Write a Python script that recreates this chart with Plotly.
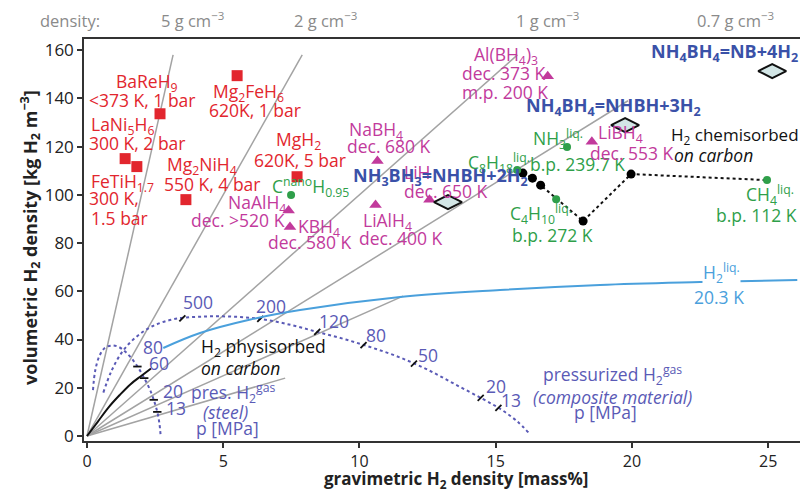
import numpy as np
import plotly.graph_objects as go

# ---------------- data ----------------
# density lines (g/cm^3) and the volumetric density at which each line stops
density_values = [5, 2, 1, 0.7, 0.5, 0.33]
density_line_end_y = [158, 158, 158, 139, 58, 24]
density_top_labels = ["5 g cm<sup>−3</sup>", "2 g cm<sup>−3</sup>", "1 g cm<sup>−3</sup>", "0.7 g cm<sup>−3</sup>"]
density_top_label_x = [3.86, 8.75, 16.9, 23.8]

# metal hydrides (red squares)
metal_names = ["BaReH9", "Mg2FeH6", "LaNi5H6", "FeTiH1.7", "Mg2NiH4", "MgH2"]
metal_grav = [2.68, 5.51, 1.40, 1.83, 3.63, 7.71]
metal_vol = [133.6, 149.4, 115.0, 111.7, 98.0, 107.5]

# complex hydrides (magenta triangles)
complex_names = ["NaAlH4", "KBH4", "NaBH4", "LiAlH4", "LiH", "Al(BH4)3", "LiBH4"]
complex_grav = [7.40, 7.45, 10.66, 10.59, 12.57, 16.91, 18.53]
complex_vol = [93.5, 86.7, 114.0, 95.8, 98.0, 149.2, 122.0]

# liquids / carbon (green circles)
green_names = ["CnanoH0.95", "C8H18", "NH3", "C4H10", "CH4"]
green_grav = [7.49, 15.79, 17.62, 17.22, 24.96]
green_vol = [99.9, 110.3, 119.8, 98.2, 106.1]

# H2 chemisorbed on carbon (black dots, dotted line ends at CH4)
chem_grav = [16.0, 16.35, 16.65, 18.21, 19.97]
chem_vol = [109.0, 106.9, 104.0, 89.1, 108.6]

# ammonia borane reactions (diamonds)
borane_names = ["NH3BH3=NHBH+2H2", "NH4BH4=NHBH+3H2", "NH4BH4=NB+4H2"]
borane_grav = [13.25, 19.75, 25.15]
borane_vol = [97.0, 128.9, 151.3]

# H2 physisorbed on carbon (black curve)
phys_grav = [0.0, 0.4, 0.8, 1.2, 1.6, 2.0, 2.35]
phys_vol = [0.0, 6.0, 12.0, 17.0, 21.5, 25.0, 28.0]

# liquid hydrogen curve
h2liq_grav = [2.8, 4.15, 6.0, 7.82, 11.49, 15.16, 18.83, 22.5, 26.07]
h2liq_vol = [36.5, 42.7, 48.3, 52.2, 57.6, 60.5, 62.6, 63.8, 64.7]

# pressurized H2 gas, composite tank
comp_grav = [0.6, 0.9, 1.3, 1.8, 2.4, 3.2, 4.2, 5.3, 6.4, 7.5, 8.5, 9.5, 10.5, 11.5, 12.5, 13.5, 14.5, 15.2, 15.8, 16.2]
comp_vol = [18, 27, 35, 41, 45.5, 48.5, 49.5, 49.5, 48.5, 46, 43, 40, 36.5, 32.5, 27.5, 21.5, 15.5, 11, 6, 1.5]
comp_tick_p = ["500", "200", "120", "80", "50", "20", "13"]
comp_tick_grav = [3.5, 6.36, 8.45, 10.15, 12.0, 14.45, 15.1]

# pressurized H2 gas, steel tank
steel_grav = [0.22, 0.3, 0.45, 0.65, 0.9, 1.15, 1.4, 1.65, 1.9, 2.1, 2.3, 2.45, 2.58, 2.66, 2.7]
steel_vol = [19, 27, 33, 36.5, 37.5, 37, 35, 32, 28, 24, 19.5, 15, 10, 5, 0.5]
steel_tick_p = ["80", "60", "20", "13"]
steel_tick_grav = [1.85, 2.1, 2.45, 2.58]

x_ticks = [0, 5, 10, 15, 20, 25]
y_ticks = [0, 20, 40, 60, 80, 100, 120, 140, 160]

# ---------------- styles ----------------
RED = "#e2262e"
MAG = "#c23a9c"
GRN = "#2f9f4a"
BLU = "#3a51a8"
PBL = "#5a5ab6"
LBL = "#4aa0dc"
GRY = "#a3a3a3"
FONT = "Open Sans"

fig = go.Figure()

# density lines through origin
for d, yend in zip(density_values, density_line_end_y):
    slope = d * 10.0  # kg/m^3 per mass%
    fig.add_trace(go.Scatter(x=[0, yend / slope], y=[0, yend], mode="lines",
                             line=dict(color=GRY, width=1.5), hoverinfo="skip", showlegend=False))

# composite and steel tank curves
fig.add_trace(go.Scatter(x=comp_grav, y=comp_vol, mode="lines", line=dict(color=PBL, width=2, dash="dot"),
                         line_shape="spline", showlegend=False))
fig.add_trace(go.Scatter(x=steel_grav, y=steel_vol, mode="lines", line=dict(color=PBL, width=2, dash="dot"),
                         line_shape="spline", showlegend=False))
# pressure tick marks
fig.add_trace(go.Scatter(x=comp_tick_grav, y=np.interp(comp_tick_grav, comp_grav, comp_vol), mode="markers",
                         marker=dict(symbol="line-ne", size=6, line=dict(color="#111", width=1.8)), showlegend=False))
fig.add_trace(go.Scatter(x=steel_tick_grav, y=np.interp(steel_tick_grav, steel_grav, steel_vol), mode="markers",
                         marker=dict(symbol="line-ew", size=6, line=dict(color="#111", width=1.8)), showlegend=False))

# liquid H2 and physisorbed curves
fig.add_trace(go.Scatter(x=h2liq_grav, y=h2liq_vol, mode="lines", line=dict(color=LBL, width=2),
                         line_shape="spline", showlegend=False))
fig.add_trace(go.Scatter(x=phys_grav, y=phys_vol, mode="lines", line=dict(color="#111", width=2),
                         line_shape="spline", showlegend=False))

# chemisorbed dotted path to CH4
fig.add_trace(go.Scatter(x=chem_grav + [green_grav[4]], y=chem_vol + [green_vol[4]], mode="lines",
                         line=dict(color="#111", width=2, dash="dot"), showlegend=False))
fig.add_trace(go.Scatter(x=chem_grav, y=chem_vol, mode="markers",
                         marker=dict(color="#000", size=9), showlegend=False))

# material markers
fig.add_trace(go.Scatter(x=metal_grav, y=metal_vol, mode="markers", text=metal_names,
                         marker=dict(symbol="square", color=RED, size=11), showlegend=False))
fig.add_trace(go.Scatter(x=complex_grav, y=complex_vol, mode="markers", text=complex_names,
                         marker=dict(symbol="triangle-up", color=MAG, size=11), showlegend=False))
fig.add_trace(go.Scatter(x=green_grav, y=green_vol, mode="markers", text=green_names,
                         marker=dict(symbol="circle", color=GRN, size=8), showlegend=False))
fig.add_trace(go.Scatter(x=borane_grav, y=borane_vol, mode="markers", text=borane_names,
                         marker=dict(symbol="diamond-wide", color="#d3e6e6", size=20,
                                     line=dict(color="#111", width=2)), showlegend=False))

# ---------------- labels ----------------
labels = [
    ("BaReH<sub>9</sub>", 1.03, 146.7, RED, ""),
    ("<373 K, 1 bar", 0.04, 139.3, RED, ""),
    ("Mg<sub>2</sub>FeH<sub>6</sub>", 4.59, 142.6, RED, ""),
    ("620K, 1 bar", 4.44, 135.1, RED, ""),
    ("LaNi<sub>5</sub>H<sub>6</sub>", 0.11, 128.9, RED, ""),
    ("300 K, 2 bar", 0.04, 121.5, RED, ""),
    ("FeTiH<sub>1.7</sub>", 0.11, 104.9, RED, ""),
    ("300 K,", 0.04, 98.7, RED, ""),
    ("1.5 bar", 0.11, 90.4, RED, ""),
    ("MgH<sub>2</sub>", 6.90, 122.7, RED, ""),
    ("620K, 5 bar", 6.09, 114.4, RED, ""),
    ("Mg<sub>2</sub>NiH<sub>4</sub>", 2.90, 112.3, RED, ""),
    ("550 K, 4 bar", 2.79, 104.5, RED, ""),
    ("C<sup>nano</sup>H<sub>0.95</sub>", 6.75, 103.2, GRN, ""),
    ("C<sub>8</sub>H<sub>18</sub><sup>liq.</sup>", 13.95, 113.2, GRN, ""),
    ("b.p. 239.7 K", 16.23, 112.7, GRN, ""),
    ("NH<sub>3</sub><sup>liq.</sup>", 16.34, 123.1, GRN, ""),
    ("C<sub>4</sub>H<sub>10</sub><sup>liq.</sup>", 15.49, 92.0, GRN, ""),
    ("b.p. 272 K", 15.57, 83.3, GRN, ""),
    ("CH<sub>4</sub><sup>liq.</sup>", 24.16, 99.9, GRN, ""),
    ("b.p. 112 K", 23.05, 91.6, GRN, ""),
    ("NaBH<sub>4</sub>", 9.58, 126.8, MAG, ""),
    ("dec. 680 K", 9.51, 120.2, MAG, ""),
    ("NaAlH<sub>4</sub>", 5.14, 96.6, MAG, ""),
    ("dec. >520 K", 3.78, 89.5, MAG, ""),
    ("KBH<sub>4</sub>", 7.71, 86.6, MAG, ""),
    ("dec. 580 K", 6.61, 80.4, MAG, ""),
    ("LiAlH<sub>4</sub>", 10.10, 89.1, MAG, ""),
    ("dec. 400 K", 9.95, 82.1, MAG, ""),
    ("LiH", 11.60, 109.4, MAG, ""),
    ("dec. 650 K", 11.60, 101.6, MAG, ""),
    ("Al(BH<sub>4</sub>)<sub>3</sub>", 14.17, 157.9, MAG, ""),
    ("dec. 373 K", 13.73, 150.5, MAG, ""),
    ("m.p. 200 K", 13.73, 142.6, MAG, ""),
    ("LiBH<sub>4</sub>", 18.72, 125.6, MAG, ""),
    ("dec. 553 K", 18.43, 117.3, MAG, ""),
    ("<b>NH<sub>3</sub>BH<sub>3</sub>=NHBH+2H<sub>2</sub></b>", 9.73, 107.4, BLU, ""),
    ("<b>NH<sub>4</sub>BH<sub>4</sub>=NHBH+3H<sub>2</sub></b>", 16.08, 136.8, BLU, ""),
    ("<b>NH<sub>4</sub>BH<sub>4</sub>=NB+4H<sub>2</sub></b>", 20.67, 158.8, BLU, ""),
    ("H<sub>2</sub> chemisorbed", 21.40, 124.8, "#111", "s"),
    ("<i>on carbon</i>", 21.52, 116.5, "#111", ""),
    ("H<sub>2</sub> physisorbed", 4.15, 36.9, "#111", ""),
    ("<i>on carbon</i>", 4.15, 28.2, "#111", ""),
    ("H<sub>2</sub><sup>liq.</sup>", 22.58, 67.6, LBL, "bg"),
    ("20.3 K", 22.25, 57.6, LBL, ""),
    ("pres. H<sub>2</sub><sup>gas</sup>", 3.78, 17.8, PBL, ""),
    ("<i>(steel)</i>", 4.22, 9.9, PBL, ""),
    ("p [MPa]", 3.96, 3.3, PBL, ""),
    ("pressurized H<sub>2</sub><sup>gas</sup>", 16.70, 25.3, PBL, ""),
    ("<i>(composite material)</i>", 16.34, 16.2, PBL, ""),
    ("p [MPa]", 17.84, 9.9, PBL, ""),
]
comp_label_pos = [(3.49, 55.5), (6.17, 53.9), (8.48, 47.7), (10.21, 41.9), (12.11, 33.6), (14.61, 20.7), (15.16, 14.9)]
steel_label_pos = [(2.02, 36.9), (2.24, 30.3), (2.75, 18.7), (2.86, 11.6)]
for p, (lx, ly) in zip(comp_tick_p, comp_label_pos):
    labels.append((p, lx, ly, PBL, ""))
for p, (lx, ly) in zip(steel_tick_p, steel_label_pos):
    labels.append((p, lx, ly, PBL, ""))

annotations = []
for text, lx, ly, color, style in labels:
    bold = text.startswith("<b>")
    size = 18 if bold else (17 if style == "s" else 17.5)
    annotations.append(dict(
        text=text, x=lx, y=ly, xref="x", yref="y", xanchor="left", yanchor="middle",
        showarrow=False, borderpad=0,
        bgcolor="white" if style == "bg" else "rgba(0,0,0,0)",
        font=dict(family=FONT, size=size, color=color)))

# density labels on top
annotations.append(dict(text="density:", x=-0.02, y=1.047, xref="paper", yref="paper",
                        xanchor="center", yanchor="middle", showarrow=False,
                        font=dict(family=FONT, size=16.5, color="#8a8a8a")))
for t, lx in zip(density_top_labels, density_top_label_x):
    annotations.append(dict(text=t, x=lx, y=1.047, xref="x", yref="paper", xanchor="center",
                            yanchor="middle", showarrow=False,
                            font=dict(family=FONT, size=16.5, color="#8a8a8a")))

# axis titles
annotations.append(dict(text="<b>gravimetric H<sub>2</sub> density [mass%]</b>", x=0.52, y=-0.097,
                        xref="paper", yref="paper", xanchor="center", yanchor="middle", showarrow=False,
                        borderpad=0, font=dict(family=FONT, size=17, color="#222")))
annotations.append(dict(text="<b>volumetric H<sub>2</sub> density [kg H<sub>2</sub> m<sup>−3</sup>]</b>",
                        x=-0.0754, y=0.505, xref="paper", yref="paper", xanchor="center", yanchor="middle",
                        textangle=-90, showarrow=False,
                        font=dict(family=FONT, size=18, color="#222")))

fig.update_layout(
    width=801, height=495,
    margin=dict(l=84, r=1, t=39, b=54),
    plot_bgcolor="white", paper_bgcolor="white",
    annotations=annotations,
    font=dict(family=FONT, color="#222"),
    xaxis=dict(range=[-0.11, 26.17], tickvals=x_ticks, showgrid=False, zeroline=False,
               showline=True, linecolor="#333", linewidth=1.5, mirror=True,
               ticks="outside", ticklen=5, tickcolor="#333", tickwidth=1.5,
               tickfont=dict(family=FONT, size=16, color="#222")),
    yaxis=dict(range=[-2.07, 164.6], tickvals=y_ticks, showgrid=False, zeroline=False,
               showline=True, linecolor="#333", linewidth=1.5,
               ticks="outside", ticklen=5, tickcolor="#333", tickwidth=1.5,
               tickfont=dict(family=FONT, size=17, color="#222")),
)

fig.write_html("out.html")
